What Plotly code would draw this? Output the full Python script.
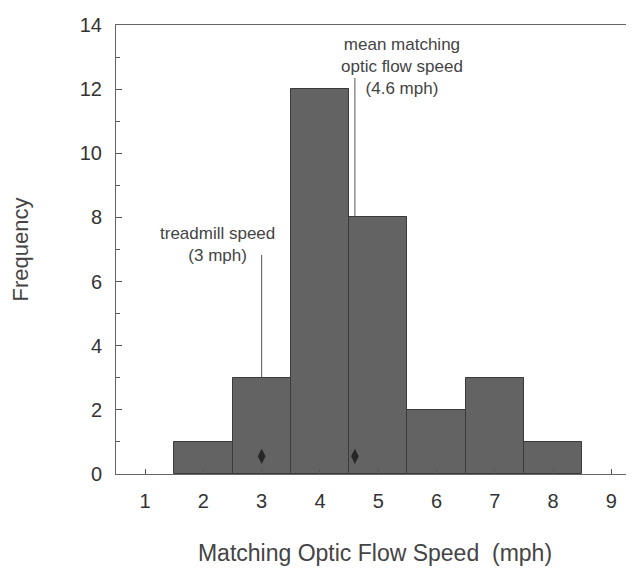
import plotly.graph_objects as go

speeds = [2, 3, 4, 5, 6, 7, 8]
freq = [1, 3, 12, 8, 2, 3, 1]
treadmill_speed = 3
mean_speed = 4.6
marker_speeds = [treadmill_speed, mean_speed]

fig = go.Figure()
fig.add_trace(go.Bar(x=speeds, y=freq, width=1,
                     marker=dict(color="#636363", line=dict(color="#3a3a3a", width=1)),
                     showlegend=False))
fig.add_trace(go.Scatter(x=marker_speeds, y=[0.55, 0.55], mode="markers",
                         marker=dict(symbol="diamond-tall", size=11, color="#262626"),
                         showlegend=False))
# indicator lines
fig.add_trace(go.Scatter(x=[treadmill_speed, treadmill_speed], y=[6.83, 3], mode="lines",
                         line=dict(color="#555", width=1), showlegend=False))
fig.add_trace(go.Scatter(x=[mean_speed, mean_speed], y=[12.35, 8], mode="lines",
                         line=dict(color="#555", width=1), showlegend=False))

fig.add_annotation(x=2.25, y=7.17, text="treadmill speed<br>(3 mph)", showarrow=False,
                   yanchor="middle", font=dict(family="Liberation Sans, Arial", size=17, color="#444"))
fig.add_annotation(x=5.41, y=12.72, text="mean matching<br>optic flow speed<br>(4.6 mph)", showarrow=False,
                   yanchor="middle", font=dict(family="Liberation Sans, Arial", size=17, color="#444"))

fig.update_layout(
    width=634, height=568,
    margin=dict(l=108, r=8, t=17, b=102),
    plot_bgcolor="white", paper_bgcolor="white",
    font=dict(family="Liberation Sans, Arial", color="#333"),
    bargap=0,
)
fig.update_xaxes(range=[0.5, 9.39], tickmode="array", tickvals=list(range(1, 10)),
                 ticks="inside", ticklen=5, tickcolor="#555", automargin=False,
                 ticklabelstandoff=9,
                 showline=True, linecolor="#666", linewidth=1, mirror=True,
                 showgrid=False, zeroline=False, tickfont=dict(size=20),
                 title=dict(text="Matching Optic Flow Speed  (mph)", font=dict(size=23, color="#444"), standoff=33))
fig.update_yaxes(range=[0, 14], tickmode="array", tickvals=list(range(0, 15, 2)),
                 ticks="inside", ticklen=6, tickcolor="#555", automargin=False,
                 ticklabelstandoff=9,
                 minor=dict(tickvals=list(range(1, 14, 2)), ticks="inside", ticklen=4, tickcolor="#555"),
                 showline=True, linecolor="#666", linewidth=1, mirror=True,
                 showgrid=False, zeroline=False, tickfont=dict(size=20),
                 title=dict(text="Frequency", font=dict(size=22, color="#444"), standoff=47))

fig.write_html("out.html")
